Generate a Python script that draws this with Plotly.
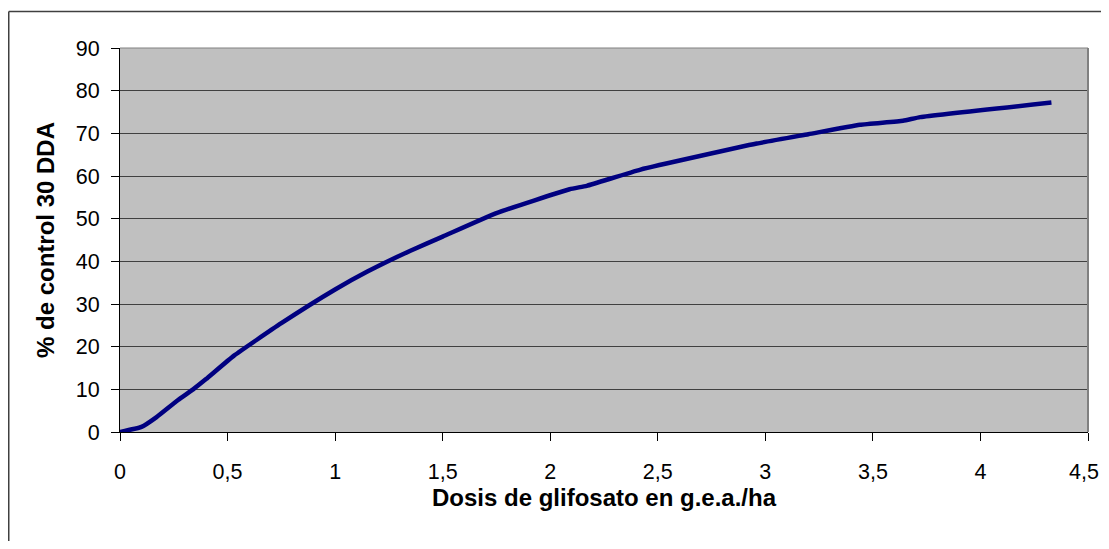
import plotly.graph_objects as go

dosis = [0, 0.1, 0.17, 0.27, 0.34, 0.40, 0.53, 0.75, 1.0, 1.15, 1.35, 1.5, 1.75,
         2.09, 2.17, 2.42, 2.96, 3.2, 3.44, 3.64, 3.72, 4.33]
control = [0, 1.2, 3.5, 7.5, 10.0, 12.4, 17.9, 25.5, 33.4, 37.6, 42.5, 45.8, 51.3,
           56.9, 57.7, 61.5, 67.6, 69.8, 72.0, 72.95, 73.8, 77.2]

x_ticks = [0, 0.5, 1, 1.5, 2, 2.5, 3, 3.5, 4, 4.5]
x_labels = ["0", "0,5", "1", "1,5", "2", "2,5", "3", "3,5", "4", "4,5"]
y_ticks = [0, 10, 20, 30, 40, 50, 60, 70, 80, 90]

# page body keeps its 8px margin; the figure fits inside the window
W, H = 1093, 533
L, R, T, B = 112, 13, 40, 109
PW, PH = W - L - R, H - T - B

fig = go.Figure()
fig.add_trace(go.Scatter(x=dosis, y=control, mode="lines",
                         line=dict(color="#000080", width=4.5, shape="spline", smoothing=0.4),
                         showlegend=False))

bx = (0.75 - L) / PW         # outer frame left edge (paper units)
by = 1 + (T - 3.5) / PH      # outer frame top edge
ex = (W - L) / PW            # figure right edge
ey = -B / PH                 # figure bottom edge

tick_font = dict(size=21.5)
font = "Liberation Sans, Arial, sans-serif"
# last x label would overflow the page edge as a tick label, so it is an annotation
shown_labels = x_labels[:-1] + [""]

fig.update_layout(
    width=W, height=H,
    margin=dict(l=L, r=R, t=T, b=B),
    paper_bgcolor="white", plot_bgcolor="#C0C0C0",
    font=dict(family=font, color="black"),
    xaxis=dict(range=[0, 4.5], tickvals=x_ticks, ticktext=shown_labels,
               showgrid=False, zeroline=False, showline=True, linecolor="black", linewidth=1,
               ticks="outside", ticklen=8, tickcolor="black", tickfont=tick_font,
               ticklabelstandoff=12,
               title=dict(text="<b>Dosis de glifosato en g.e.a./ha</b>", font=dict(size=24), standoff=3)),
    yaxis=dict(range=[0, 90], tickvals=y_ticks,
               showgrid=True, gridcolor="#404040", gridwidth=1, zeroline=False,
               showline=True, linecolor="black", linewidth=1,
               ticks="outside", ticklen=8, tickcolor="black", tickfont=tick_font,
               ticklabelstandoff=7,
               title=dict(text="<b>% de control 30 DDA</b>", font=dict(size=24), standoff=14)),
    annotations=[
        dict(text=x_labels[-1], x=x_ticks[-1], xref="x", y=0, yref="paper",
             xanchor="center", yanchor="middle", xshift=-4, yshift=-40,
             showarrow=False, font=tick_font, borderpad=0),
    ],
    shapes=[
        dict(type="line", xref="paper", yref="paper", x0=1, x1=1, y0=0, y1=1,
             line=dict(color="#808080", width=2)),
        dict(type="line", xref="paper", yref="paper", x0=0, x1=1, y0=1, y1=1,
             line=dict(color="#808080", width=1)),
        dict(type="line", xref="paper", yref="paper", x0=bx, x1=bx, y0=ey, y1=by,
             line=dict(color="#404040", width=1.5), layer="below"),
        dict(type="line", xref="paper", yref="paper", x0=bx, x1=ex, y0=by, y1=by,
             line=dict(color="#404040", width=1.5), layer="below"),
    ],
)

fig.write_html("out.html", config={"displayModeBar": False})
